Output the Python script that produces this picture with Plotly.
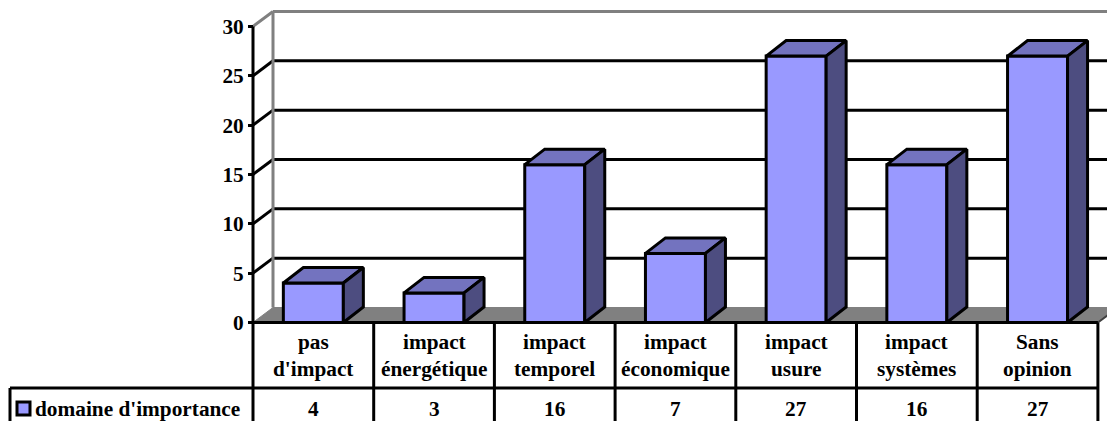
import plotly.graph_objects as go

# ---- data ----
categories = ["pas\nd'impact", "impact\nénergétique", "impact\ntemporel", "impact\néconomique",
              "impact\nusure", "impact\nsystèmes", "Sans\nopinion"]
values = [4, 3, 16, 7, 27, 16, 27]
series_name = "domaine d'importance"
y_ticks = [0, 5, 10, 15, 20, 25, 30]

# ---- geometry (page pixels) ----
W, H = 1107, 421
AX_L, COL = 253.0, 120.7      # left of the category axis, width of a category
Y0, PX_PER = 322.5, 9.867     # pixel of value 0, pixels per unit
DX, DY = 20.0, 15.0           # 3D depth, wall
BAR_W = 60.0 / COL
DEPTH_X, DEPTH_Y = DX / COL, DY / PX_PER
BAR_DEPTH_Y = 15.5 / PX_PER
LW = 3

FRONT, TOP, SIDE = "#9999FF", "#7373BF", "#4D4D80"
GRAY = "#808080"
FONT = dict(family="Liberation Serif", size=21.3, color="black", weight=700)

def X(p):  # pixel to category coordinate
    return (p - AX_L) / COL - 0.5
def Y(p):  # pixel to value coordinate
    return (Y0 - p) / PX_PER

n = len(values)
x_left, x_right = -0.5, n - 0.5
fig = go.Figure()

# front faces
fig.add_trace(go.Bar(x=list(range(n)), y=values, width=BAR_W, name=series_name,
                     marker=dict(color=FRONT, line=dict(color="black", width=LW)),
                     showlegend=False, hoverinfo="x+y"))

# top and side faces, derived from the values
for i, v in enumerate(values):
    l, r = i - BAR_W / 2, i + BAR_W / 2
    fig.add_trace(go.Scatter(
        x=[l, l + DEPTH_X, r + DEPTH_X, r, l], y=[v, v + BAR_DEPTH_Y, v + BAR_DEPTH_Y, v, v],
        mode="lines", fill="toself", fillcolor=TOP, line=dict(color="black", width=LW),
        showlegend=False, hoverinfo="skip"))
    fig.add_trace(go.Scatter(
        x=[r, r + DEPTH_X, r + DEPTH_X, r, r], y=[v, v + BAR_DEPTH_Y, BAR_DEPTH_Y, 0, v],
        mode="lines", fill="toself", fillcolor=SIDE, line=dict(color="black", width=LW),
        showlegend=False, hoverinfo="skip"))

shapes = []
def line(x0, y0, x1, y1, color="black", width=LW, layer="below"):
    shapes.append(dict(type="line", xref="x", yref="y", x0=x0, y0=y0, x1=x1, y1=y1,
                       line=dict(color=color, width=width), layer=layer))

# floor
shapes.append(dict(type="path", xref="x", yref="y", layer="below", fillcolor=GRAY,
                   line=dict(color=GRAY, width=1),
                   path=f"M {x_left},0 L {x_left+DEPTH_X},{DEPTH_Y} L {x_right+DEPTH_X},{DEPTH_Y} L {x_right},0 Z"))
# gridlines on the walls
top_tick = y_ticks[-1]
for t in y_ticks[1:-1]:
    line(x_left, t, x_left + DEPTH_X, t + DEPTH_Y)
    line(x_left + DEPTH_X, t + DEPTH_Y, x_right + DEPTH_X, t + DEPTH_Y)
# wall outline
line(x_left, top_tick, x_left + DEPTH_X, top_tick + DEPTH_Y, GRAY, 3)
line(x_left + DEPTH_X, top_tick + DEPTH_Y, x_right + DEPTH_X, top_tick + DEPTH_Y, GRAY, 3)
line(x_left + DEPTH_X, DEPTH_Y, x_left + DEPTH_X, top_tick + DEPTH_Y, GRAY, 3)
# value axis and category axis
line(x_left, 0, x_left, top_tick, width=3)
line(x_left, 0, x_right, 0, width=3, layer="above")
line(x_right, 0, x_right + DEPTH_X, DEPTH_Y, "#404040", 2)

# data table
y_row = Y(388)
y_bot = Y(H + 2)
for i in range(n + 1):
    line(i - 0.5, 0, i - 0.5, y_bot, width=3)
line(X(10), y_row, x_right, y_row)
line(X(10), y_row, X(10), y_bot)
shapes.append(dict(type="rect", xref="x", yref="y", x0=X(17), x1=X(30), y0=Y(415), y1=Y(402),
                   fillcolor=FRONT, line=dict(color="black", width=LW)))

ann = []
def text(x, y, s, anchor="center"):
    ann.append(dict(x=x, y=y, text=s, showarrow=False, xanchor=anchor, yanchor="middle",
                    font=FONT, xref="x", yref="y"))
for i, (c, v) in enumerate(zip(categories, values)):
    a, b = c.split("\n")
    text(i, Y(342), a)
    text(i, Y(369), b)
    text(i, Y(409), str(v))
text(X(33), Y(409), series_name, "left")

fig.update_layout(
    width=W, height=H, margin=dict(l=0, r=0, t=0, b=0),
    paper_bgcolor="white", plot_bgcolor="white", showlegend=False,
    shapes=shapes, annotations=ann, font=FONT,
    xaxis=dict(range=[X(0), X(W)], visible=False, fixedrange=True),
    yaxis=dict(range=[Y(H), Y(0)], anchor="free", position=AX_L / W,
               tickmode="array", tickvals=y_ticks, ticks="outside", ticklen=5, tickwidth=2.5,
               tickcolor="black", showgrid=False, zeroline=False, showline=False,
               tickfont=FONT, fixedrange=True),
)
fig.write_html("out.html", post_script="document.body.style.margin='0';document.body.style.overflow='hidden';",
               config=dict(displayModeBar=False))
